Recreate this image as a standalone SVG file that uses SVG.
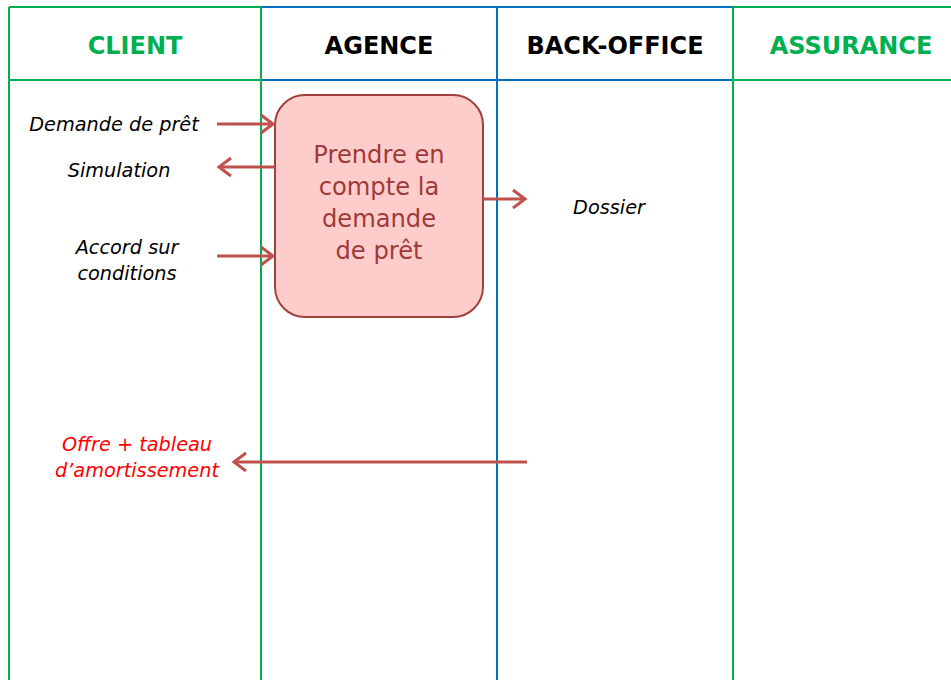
<svg xmlns="http://www.w3.org/2000/svg" width="951" height="680" viewBox="0 0 951 680">
<defs>
<style>
.hdr{font-family:"DejaVu Sans",Verdana,sans-serif;font-weight:bold;font-size:24px;text-anchor:middle}
.lbl{font-family:"DejaVu Sans",Verdana,sans-serif;font-style:italic;font-size:19.3px;text-anchor:middle;fill:#000}
.box{font-family:"DejaVu Sans",Verdana,sans-serif;font-size:24.2px;text-anchor:middle;fill:#9E3B39}
.g{stroke:#00B050;stroke-width:2;fill:none}
.b{stroke:#0070C0;stroke-width:2;fill:none}
.arr{stroke:#C0504D;stroke-width:3;fill:none;marker-end:url(#ah)}
</style>
<marker id="ah" markerUnits="userSpaceOnUse" markerWidth="30" markerHeight="30" viewBox="-20 -15 30 30" refX="0" refY="0" orient="auto">
<path d="M-12,-9 L0,0 L-12,9" fill="none" stroke="#C0504D" stroke-width="3"/>
</marker>
</defs>
<rect width="951" height="680" fill="#fff"/>
<g id="lanes">
<line class="g" x1="9" y1="7" x2="261" y2="7"/>
<line class="g" x1="9" y1="80" x2="261" y2="80"/>
<line class="b" x1="261" y1="7" x2="733" y2="7"/>
<line class="b" x1="261" y1="80" x2="733" y2="80"/>
<line class="g" x1="733" y1="7" x2="951" y2="7"/>
<line class="g" x1="733" y1="80" x2="951" y2="80"/>
<line class="g" x1="9" y1="7" x2="9" y2="680"/>
<line class="g" x1="261" y1="7" x2="261" y2="680"/>
<line class="b" x1="497" y1="7" x2="497" y2="680"/>
<line class="g" x1="733" y1="7" x2="733" y2="680"/>
</g>
<g id="headers">
<text class="hdr" x="135" y="54" fill="#00B050">CLIENT</text>
<text class="hdr" x="379" y="54" fill="#000">AGENCE</text>
<text class="hdr" x="615" y="54" fill="#000">BACK-OFFICE</text>
<text class="hdr" x="851" y="54" fill="#00B050">ASSURANCE</text>
</g>
<g id="node-prendre">
<rect x="275" y="95" width="208" height="222" rx="30" ry="30" fill="#FFCCCC" stroke="#A0413E" stroke-width="2"/>
<text class="box" x="379" y="163">Prendre en</text>
<text class="box" x="379" y="195">compte la</text>
<text class="box" x="379" y="227">demande</text>
<text class="box" x="379" y="259">de prêt</text>
</g>
<g id="connectors">
<line class="arr" x1="217" y1="124" x2="273" y2="124"/>
<line class="arr" x1="275" y1="167" x2="219" y2="167"/>
<line class="arr" x1="217" y1="256" x2="273" y2="256"/>
<line class="arr" x1="483" y1="199" x2="525" y2="199"/>
<line class="arr" x1="527" y1="462" x2="234" y2="462"/>
</g>
<g id="labels">
<text class="lbl" x="114" y="131">Demande de prêt</text>
<text class="lbl" x="119" y="177">Simulation</text>
<text class="lbl" x="127" y="254">Accord sur</text>
<text class="lbl" x="127" y="280">conditions</text>
<text class="lbl" x="609" y="214">Dossier</text>
<text class="lbl" x="137" y="451" style="fill:#FF0000">Offre + tableau</text>
<text class="lbl" x="137" y="477" style="fill:#FF0000">d’amortissement</text>
</g>
</svg>
